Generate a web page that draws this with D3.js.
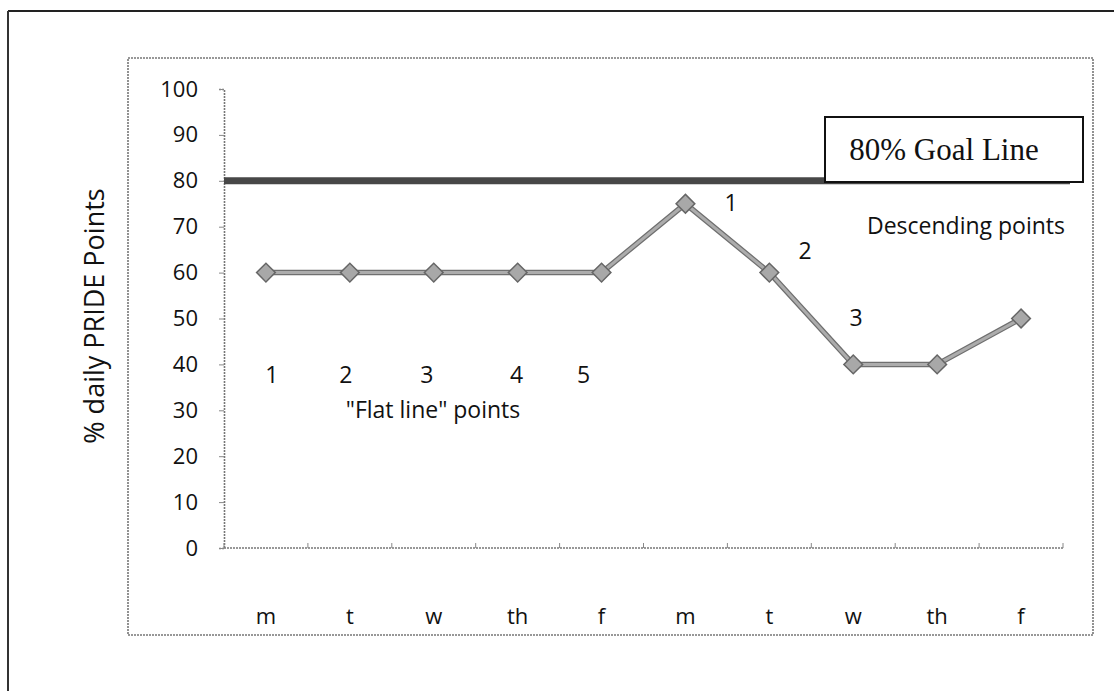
<!DOCTYPE html>
<html>
<head>
<meta charset="utf-8">
<script src="https://cdn.jsdelivr.net/npm/d3@7"></script>
<style>
  html, body { margin: 0; padding: 0; background: #fff; }
  svg { display: block; }
</style>
</head>
<body>
<svg id="chart" width="1114" height="691"></svg>
<script>
// Two school weeks of daily PRIDE point percentages
const days = ["m", "t", "w", "th", "f", "m", "t", "w", "th", "f"];
const dayIndex = [0, 1, 2, 3, 4, 5, 6, 7, 8, 9];
const pridePercent = [60, 60, 60, 60, 60, 75, 60, 40, 40, 50];
const goalValue = 80;
const yTicks = [0, 10, 20, 30, 40, 50, 60, 70, 80, 90, 100];

// Annotation numbering for the two phases
const flatIdx = [0, 1, 2, 3, 4];
const flatLabels = ["1", "2", "3", "4", "5"];
const descIdx = [5, 6, 7];
const descLabels = ["1", "2", "3"];

const svg = d3.select("#chart");
const sansFont = "'Open Sans', 'DejaVu Sans', sans-serif";
const labelSize = 22;
const noteSize = 23;

// Page frame lines
svg.append("line").attr("x1", 8).attr("x2", 1114).attr("y1", 11).attr("y2", 11)
  .attr("stroke", "#222").attr("stroke-width", 2);
svg.append("line").attr("x1", 8).attr("x2", 8).attr("y1", 11).attr("y2", 691)
  .attr("stroke", "#333").attr("stroke-width", 2);

// Chart area border
svg.append("rect").attr("x", 128).attr("y", 58).attr("width", 965).attr("height", 577)
  .attr("fill", "none").attr("stroke", "#777").attr("stroke-width", 1.6)
  .attr("stroke-dasharray", "2,1");

const plot = { left: 224, right: 1063, top: 89, bottom: 548 };

const x = d3.scaleBand().domain(dayIndex).range([plot.left, plot.right]);
const cx = i => x(i) + x.bandwidth() / 2;
const y = d3.scaleLinear().domain([0, 100]).range([plot.bottom, plot.top]);

// Y axis
const yAxis = svg.append("g").attr("transform", `translate(${plot.left},0)`)
  .call(d3.axisLeft(y).tickValues(yTicks).tickSize(5).tickPadding(21));
yAxis.select(".domain").attr("stroke", "#777").attr("stroke-width", 1.6).attr("stroke-dasharray", "2,1");
yAxis.selectAll(".tick line").attr("stroke", "#888");
yAxis.selectAll(".tick text").attr("font-family", sansFont).attr("font-size", labelSize).attr("fill", "#111");

// X axis: ticks sit between categories, labels well below the line
const xAxis = svg.append("g").attr("transform", `translate(0,${plot.bottom})`);
xAxis.append("line").attr("x1", plot.left).attr("x2", plot.right).attr("y1", 0).attr("y2", 0)
  .attr("stroke", "#777").attr("stroke-width", 1.6).attr("stroke-dasharray", "2,1");
xAxis.selectAll("line.sep").data(dayIndex.concat([dayIndex.length])).join("line")
  .attr("class", "sep")
  .attr("x1", i => plot.left + i * x.bandwidth()).attr("x2", i => plot.left + i * x.bandwidth())
  .attr("y1", -5).attr("y2", 0).attr("stroke", "#888");
xAxis.selectAll("text").data(dayIndex).join("text")
  .attr("x", i => cx(i)).attr("y", 76)
  .attr("text-anchor", "middle").attr("font-family", sansFont).attr("font-size", labelSize).attr("fill", "#111")
  .text(i => days[i]);

// Y axis title
svg.append("text")
  .attr("transform", "translate(104,316) rotate(-90)")
  .attr("text-anchor", "middle").attr("font-family", sansFont).attr("font-size", 27).attr("fill", "#111")
  .text("% daily PRIDE Points");

// Goal line at 80%
svg.append("line")
  .attr("x1", plot.left).attr("x2", 1070)
  .attr("y1", y(goalValue)).attr("y2", y(goalValue))
  .attr("stroke", "#474747").attr("stroke-width", 7);

// Goal label box
svg.append("rect").attr("x", 825).attr("y", 117).attr("width", 258).attr("height", 65)
  .attr("fill", "#fff").attr("stroke", "#111").attr("stroke-width", 2);
svg.append("text").attr("x", 944).attr("y", 160)
  .attr("text-anchor", "middle").attr("font-family", "'Liberation Serif', 'DejaVu Serif', serif")
  .attr("font-size", 31).attr("fill", "#111").text("80% Goal Line");

// Data line
const line = d3.line().x(i => cx(i)).y(i => y(pridePercent[i]));
svg.append("path").datum(dayIndex).attr("d", line)
  .attr("fill", "none").attr("stroke", "#6f6f6f").attr("stroke-width", 5.5).attr("stroke-linejoin", "round");
svg.append("path").datum(dayIndex).attr("d", line)
  .attr("fill", "none").attr("stroke", "#acacac").attr("stroke-width", 3).attr("stroke-linejoin", "round");

// Diamond markers
const diamond = d3.symbol().type(d3.symbolSquare).size(175);
svg.selectAll("path.marker").data(dayIndex).join("path")
  .attr("class", "marker")
  .attr("d", diamond)
  .attr("transform", i => `translate(${cx(i)},${y(pridePercent[i])}) rotate(45)`)
  .attr("fill", "#a8a8a8").attr("stroke", "#666").attr("stroke-width", 1.5);

// Annotations
const ann = svg.append("g").attr("font-family", sansFont).attr("font-size", noteSize).attr("fill", "#111");
const flatOffsets = [6, -4, -7, -1, -18];
ann.selectAll("text.flat").data(flatIdx).join("text")
  .attr("class", "flat")
  .attr("x", (i, k) => cx(i) + flatOffsets[k]).attr("y", 383)
  .attr("text-anchor", "middle").text((i, k) => flatLabels[k]);
ann.append("text").attr("x", 433).attr("y", 418).attr("text-anchor", "middle").text("\"Flat line\" points");

const descPos = [[731, 211], [805, 259], [856, 326]];
ann.selectAll("text.desc").data(descIdx).join("text")
  .attr("class", "desc")
  .attr("x", (i, k) => descPos[k][0]).attr("y", (i, k) => descPos[k][1])
  .attr("text-anchor", "middle").text((i, k) => descLabels[k]);
ann.append("text").attr("x", 966).attr("y", 234).attr("text-anchor", "middle").text("Descending points");
</script>
</body>
</html>
